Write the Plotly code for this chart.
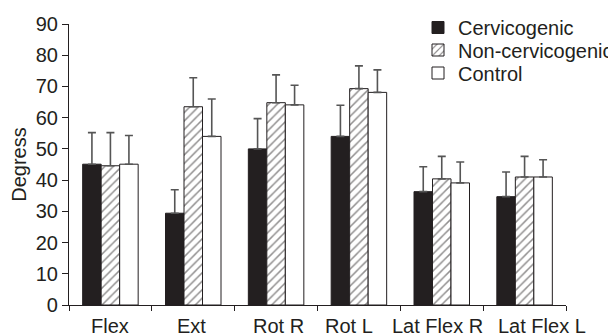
import plotly.graph_objects as go

categories = ["Flex", "Ext", "Rot R", "Rot L", "Lat Flex R", "Lat Flex L"]
cervicogenic = [45.1, 29.4, 50.0, 54.0, 36.3, 34.7]
cervicogenic_sd = [10.1, 7.5, 9.7, 10.0, 8.0, 7.9]
non_cervicogenic = [44.6, 63.5, 64.8, 69.3, 40.4, 41.0]
non_cervicogenic_sd = [10.6, 9.3, 8.9, 7.3, 7.2, 6.6]
control = [45.1, 54.0, 64.1, 68.1, 39.1, 41.0]
control_sd = [9.2, 12.0, 6.3, 7.2, 6.7, 5.5]
y_ticks = [0, 10, 20, 30, 40, 50, 60, 70, 80, 90]
# small horizontal nudges of the category labels, as set in the reference
label_nudge = [0, -2, 2, -10, -4, 17]

FONT = "Liberation Sans, Arial, sans-serif"
INK = "#231f20"
FS = 20

def err(sd):
    return dict(type="data", symmetric=False, array=sd, arrayminus=[0] * len(sd),
                color="#555555", thickness=1.6, width=4)

fig = go.Figure()
fig.add_trace(go.Bar(name="Cervicogenic", x=categories, y=cervicogenic, legend="legend",
                     marker=dict(color=INK, line=dict(color=INK, width=1)),
                     error_y=err(cervicogenic_sd)))
fig.add_trace(go.Bar(name="Non-cervicogenic", x=categories, y=non_cervicogenic, legend="legend2",
                     marker=dict(color="white", line=dict(color=INK, width=1),
                                 pattern=dict(shape="/", fgcolor=INK, bgcolor="white",
                                              size=6, solidity=0.25)),
                     error_y=err(non_cervicogenic_sd)))
fig.add_trace(go.Bar(name="Control", x=categories, y=control, legend="legend3",
                     marker=dict(color="white", line=dict(color=INK, width=1)),
                     error_y=err(control_sd)))

# page body has an 8px margin, so figure coords = screen coords - 8
W, H = 616.0, 335.0
L_M, R_M = 61, 58
PLOT_W = W - L_M - R_M
PAPER_H = 297.0
def leg(ypx, anchor="middle"):
    return dict(x=(410.0 - L_M) / PLOT_W, y=1 - ypx / PAPER_H, xanchor="left", yanchor=anchor,
                font=dict(size=FS, family=FONT, color=INK), bgcolor="rgba(0,0,0,0)",
                itemwidth=30, visible=True)

for i, (cat, dx) in enumerate(zip(categories, label_nudge)):
    fig.add_annotation(x=i, xref="x", y=0, yref="paper", text=cat, showarrow=False,
                       xanchor="center", yanchor="middle", yshift=-21, xshift=dx,
                       font=dict(size=FS, family=FONT, color=INK))

fig.update_layout(
    width=616, height=335,
    margin=dict(l=L_M, r=R_M, t=0, b=38),
    paper_bgcolor="white", plot_bgcolor="white",
    barmode="group", bargap=0.33, bargroupgap=0,
    showlegend=True,
    font=dict(family=FONT, size=FS, color=INK),
    legend=leg(0, "top"), legend2=leg(42), legend3=leg(65),
    xaxis=dict(type="category", categoryorder="array", categoryarray=categories,
               range=[-0.5, len(categories) - 0.5],
               showline=True, linecolor=INK, linewidth=1.2, automargin=False,
               ticks="outside", tickson="boundaries", ticklen=5, tickcolor=INK,
               showticklabels=False, showgrid=False),
    yaxis=dict(range=[0, 90], tickvals=y_ticks, showline=True, linecolor=INK,
               domain=[0, 281 / PAPER_H], automargin=False,
               linewidth=1.2, ticks="outside", ticklen=6, tickcolor=INK,
               showgrid=False, zeroline=False, tickfont=dict(size=FS),
               title=dict(text="Degress", font=dict(size=FS), standoff=12)),
)

fig.write_html("out.html")
